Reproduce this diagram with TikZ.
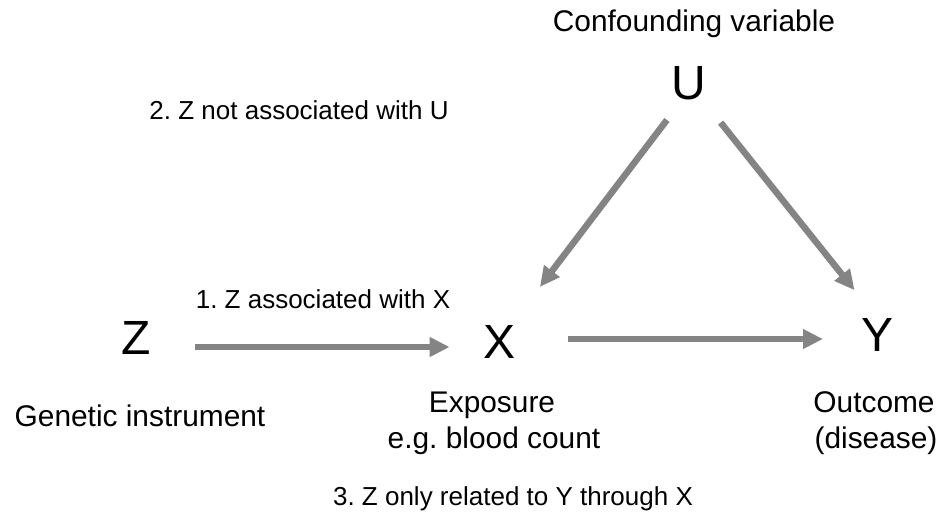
\documentclass[tikz,border=0pt]{standalone}
\usepackage{fontspec}
\setmainfont{Liberation Sans}
\usetikzlibrary{arrows.meta}
\definecolor{arrgray}{HTML}{848484}
\frenchspacing
\tikzset{
  big/.style={font=\fontsize{36}{42}\selectfont, inner sep=0pt},
  lbl/.style={font=\fontsize{22.4}{27}\selectfont, inner sep=0pt, anchor=base},
  cond/.style={font=\fontsize{19.5}{24}\selectfont, inner sep=0pt, anchor=base},
  arr/.style={draw=arrgray, line width=4.9pt, -{Triangle[length=15pt,width=14pt]}}
}
\begin{document}
\begin{tikzpicture}[x=0.75pt,y=-0.75pt]
\useasboundingbox (0,0) rectangle (948,513);
% main variables
\node[big] (U) at (689,83) {U};
\node[big] (Z) at (136,338) {Z};
\node[big] (X) at (499,342) {X};
\node[big] (Y) at (877,335) {Y};
% labels
\node[lbl] (conf) at (694,32) {Confounding variable};
\node[cond] (c2) at (299,120) {2. Z not associated with U};
\node[cond] (c1) at (323,308) {1. Z associated with X};
\node[lbl] (gen) at (140,426) {Genetic instrument};
\node[lbl] (exp) at (492,412) {Exposure};
\node[lbl] (eg) at (494,448) {e.g. blood count};
\node[lbl] (out) at (874,412) {Outcome};
\node[lbl] (dis) at (876,448) {(disease)};
\node[cond] (c3) at (513,505) {3. Z only related to Y through X};
% arrows
\draw[arr, shorten <=34.8pt, shorten >=51.9pt] ([xshift=4.5pt]U.center) -- ([xshift=-0.75pt]X.center);
\draw[arr, shorten <=38pt, shorten >=43pt] (U.center) -- ([xshift=10pt]Y.center);
\draw[arr, shorten <=44pt, shorten >=37pt] ([yshift=-6.75pt]Z.center) -- ([yshift=-3.75pt]X.center);
\draw[arr, shorten <=52pt, shorten >=40.5pt] ([yshift=2.25pt]X.center) -- ([yshift=-3pt]Y.center);
\end{tikzpicture}
\end{document}
